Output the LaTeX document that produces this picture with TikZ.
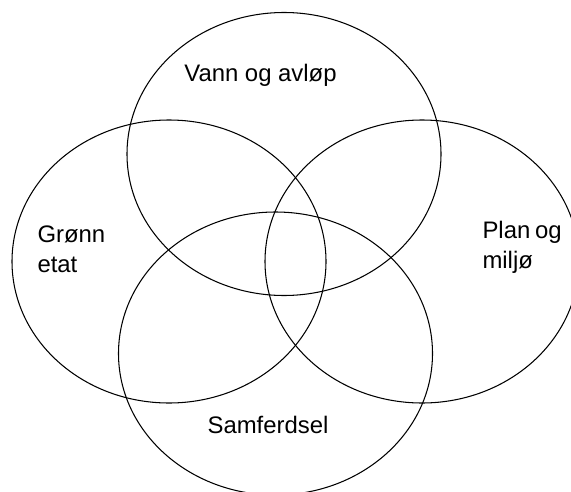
\documentclass[tikz,border=0pt]{standalone}
\usepackage{fontspec}
\setmainfont{Liberation Sans}
\begin{document}
\begin{tikzpicture}[x=0.02cm,y=0.02cm,line width=0.6pt]
		\useasboundingbox (0,0) rectangle (571,491);
		%ellipses
		\draw (284,337) ellipse (157 and 141.5);
		\draw (169,229.5) ellipse (157 and 141.5);
		\draw (422,229.5) ellipse (157 and 141.5);
		\draw (275.5,137.5) ellipse (157 and 141.5);
		%labels
		\tikzset{lbl/.style={inner sep=0pt,font=\fontsize{13.6}{17}\selectfont}}
		\node[lbl,anchor=base] (vann) at (260.5,409) {Vann og avløp};
		\node[lbl,anchor=base west,align=left] (gronn) at (37,219) {Grønn\\etat};
		\node[lbl,anchor=base west,align=left] (plan) at (482,223) {Plan\hspace{0.2em}og\\miljø};
		\node[lbl,anchor=base] (samf) at (268,58) {Samferdsel};
	\end{tikzpicture}
\end{document}
